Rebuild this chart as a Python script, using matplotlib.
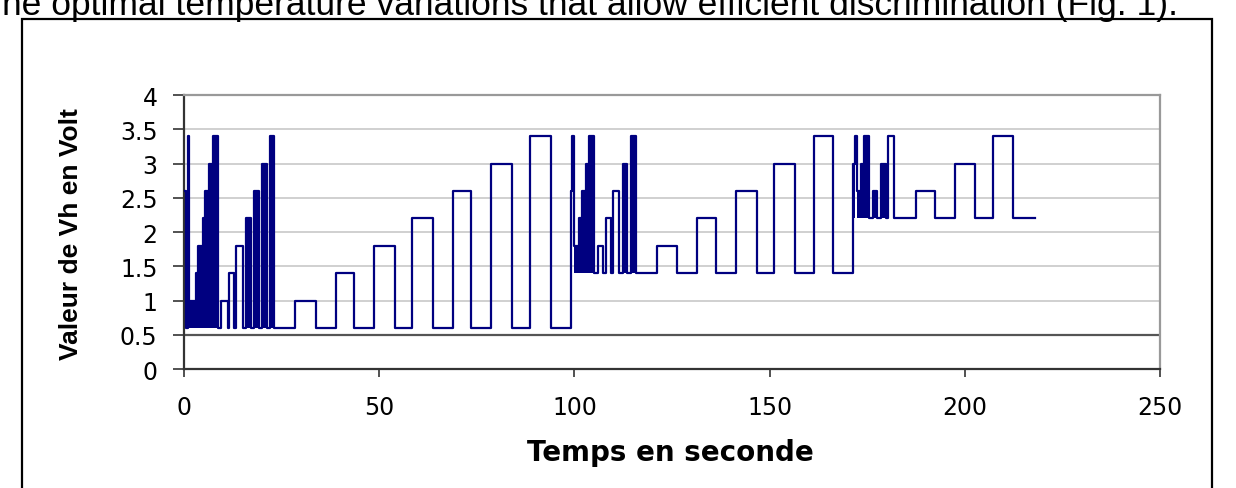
import numpy as np
import matplotlib.pyplot as plt
from matplotlib.patches import Rectangle

plt.rcParams['font.family'] = ['Liberation Sans', 'DejaVu Sans']

# step signal: segment start times (s) and level (V) held until the next start
seg_start = [0.0, 0.6, 0.9, 1.4, 3.1, 3.7, 4.8, 5.4, 6.5, 7.5,
             8.7, 9.6, 11.3, 11.6, 12.8, 13.3, 15.0, 15.9, 17.2, 17.9,
             19.2, 20.0, 21.2, 22.0, 23.1, 28.5, 33.8, 38.9, 43.5, 48.7,
             54.0, 58.4, 63.7, 68.8, 73.6, 78.6, 84.0, 88.6, 93.9,
             99.2, 99.5, 99.9, 101.3, 101.9, 102.9, 103.8, 105.0, 106.1, 107.4,
             108.0, 109.3, 110.0, 111.5, 112.4, 113.6, 114.4, 115.7, 121.1, 126.4,
             131.3, 136.3, 141.3, 146.7, 151.0, 156.5, 161.5, 166.3,
             171.3, 171.8, 172.3, 173.4, 174.3, 175.5, 176.6, 177.6, 178.5, 179.7,
             180.3, 181.9, 187.5, 192.4, 197.5, 202.6, 207.1, 212.4]
seg_level = [2.6, 0.6, 3.4, 1.0, 1.4, 1.8, 2.2, 2.6, 3.0, 3.4,
             0.6, 1.0, 0.6, 1.4, 0.6, 1.8, 0.6, 2.2, 0.6, 2.6,
             0.6, 3.0, 0.6, 3.4, 0.6, 1.0, 0.6, 1.4, 0.6, 1.8,
             0.6, 2.2, 0.6, 2.6, 0.6, 3.0, 0.6, 3.4, 0.6,
             2.6, 3.4, 1.8, 2.2, 2.6, 3.0, 3.4, 1.4, 1.8, 1.4,
             2.2, 1.4, 2.6, 1.4, 3.0, 1.4, 3.4, 1.4, 1.8, 1.4,
             2.2, 1.4, 2.6, 1.4, 3.0, 1.4, 3.4, 1.4,
             3.0, 3.4, 2.6, 3.0, 3.4, 2.2, 2.6, 2.2, 3.0, 2.2,
             3.4, 2.2, 2.6, 2.2, 3.0, 2.2, 3.4, 2.2]
t_end = 218.0

# fast switching stretches that print as solid blocks: (start, end, low level)
dense_t0 = [0.0, 1.4, 15.9, 17.9, 20.0, 22.0, 99.2, 99.9, 112.4, 114.4, 171.3, 172.3, 176.6, 178.5]
dense_t1 = [0.6, 8.7, 17.2, 19.2, 21.2, 23.1, 99.5, 105.0, 113.6, 115.7, 171.8, 175.5, 177.6, 179.7]
dense_lo = [0.6, 0.6, 0.6, 0.6, 0.6, 0.6, 1.4, 1.4, 1.4, 1.4, 2.2, 2.2, 2.2, 2.2]

xticks = [0, 50, 100, 150, 200, 250]
yticks = [0, 0.5, 1, 1.5, 2, 2.5, 3, 3.5, 4]
ytick_labels = ['0', '0.5', '1', '1.5', '2', '2.5', '3', '3.5', '4']

W, H = 1236, 489
fig = plt.figure(figsize=(W / 100, H / 100), dpi=100)

# caption line cut off at the top of the page
fig.text(2 / W, 1 - 15 / H, 'he optimal temperature variations that allow efficient discrimination (Fig. 1).',
         fontsize=25.5, va='baseline', ha='left')

# frame round the chart
fig.patches.append(Rectangle((22 / W, -0.05), (1212 - 22) / W, 1.05 - 20 / H,
                             transform=fig.transFigure, fill=False, edgecolor='black', linewidth=1.6))

ax = fig.add_axes([184 / W, 1 - 370 / H, (1160 - 184) / W, (370 - 96) / H])

navy = '#000080'
xs = np.array(seg_start + [t_end])
ys = np.array(seg_level + [seg_level[-1]])
ax.step(xs, ys, where='post', color=navy, linewidth=1.6, zorder=3)

for t0, t1, lo in zip(dense_t0, dense_t1, dense_lo):
    m = (xs >= t0 - 1e-9) & (xs <= t1 + 1e-9)
    fx = xs[m]
    fy = ys[m].copy()
    fy[-1] = fy[-2] if len(fy) > 1 else fy[-1]
    ax.fill_between(fx, lo, fy, step='post', color=navy, linewidth=0, zorder=2)

ax.set_xlim(0, 250)
ax.set_ylim(0, 4)
ax.set_xticks(xticks)
ax.set_yticks(yticks)
ax.set_yticklabels(ytick_labels)

for y in yticks[2:-1]:
    ax.axhline(y, color='#c8c8c8', linewidth=1.2, zorder=1)
ax.axhline(0.5, color='#555555', linewidth=1.6, zorder=1)

for side in ['left', 'bottom']:
    ax.spines[side].set_color('#333333')
    ax.spines[side].set_linewidth(1.6)
for side in ['top', 'right']:
    ax.spines[side].set_color('#999999')
    ax.spines[side].set_linewidth(1.6)

ax.tick_params(axis='y', direction='out', length=8, width=1.2, color='#333333', pad=11)
ax.tick_params(axis='x', direction='out', length=6, width=1.2, color='#333333', pad=13)
for lab in ax.get_xticklabels() + ax.get_yticklabels():
    lab.set_family(['DejaVu Sans'])
    lab.set_fontsize(17)

fig.text(670 / W, 1 - 453 / H, 'Temps en seconde', fontsize=20, fontweight='bold',
         family=['DejaVu Sans'], ha='center', va='center')
fig.text(71 / W, 1 - 234 / H, 'Valeur de Vh en Volt', fontsize=19, fontweight='bold',
         rotation=90, ha='center', va='center')

fig.savefig('out.png', dpi=100)
